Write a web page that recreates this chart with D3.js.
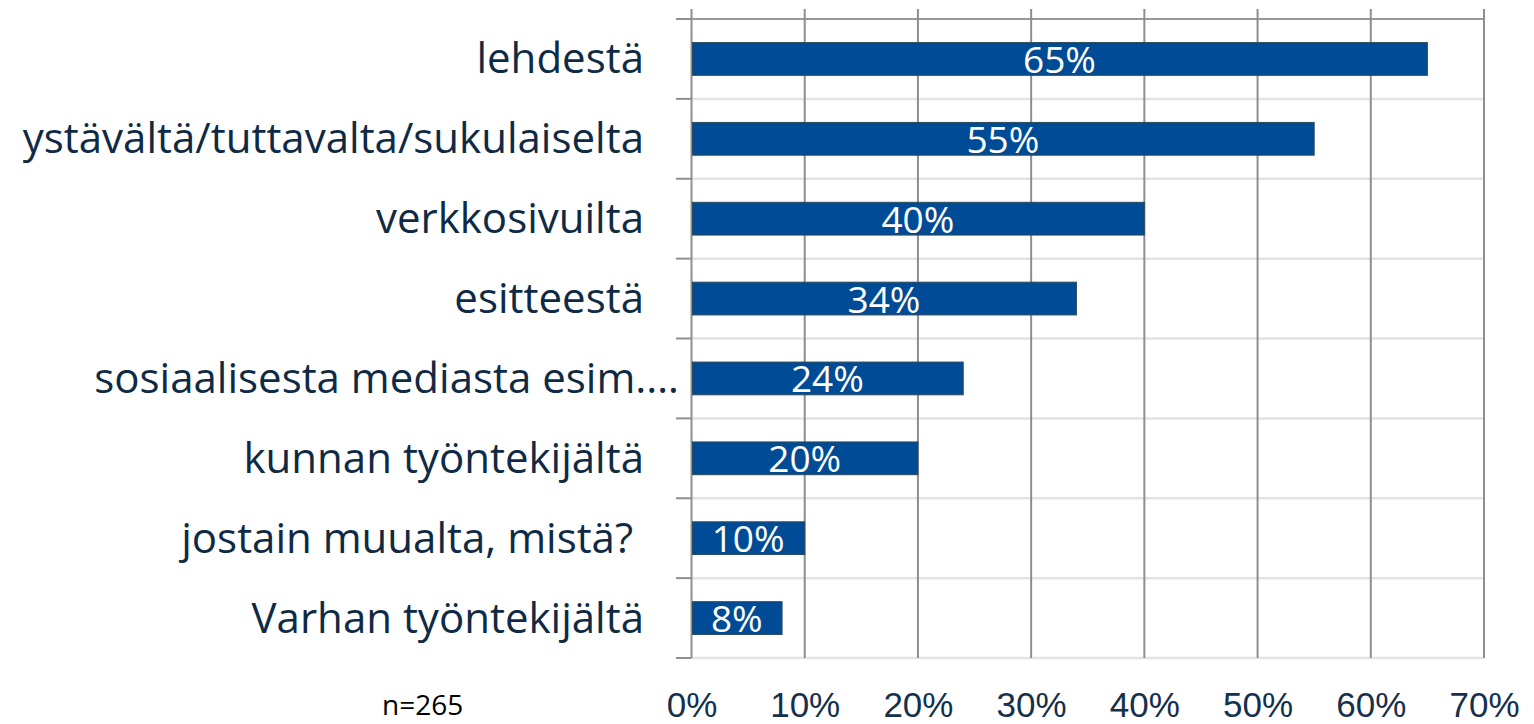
<!DOCTYPE html>
<html>
<head>
<meta charset="utf-8">
<script src="https://cdn.jsdelivr.net/npm/d3@7"></script>
<style>
  body { margin: 0; background: #fff; }
  svg text { white-space: pre; }
</style>
</head>
<body>
<div id="chart"></div>
<script>
const categories = [
  "lehdestä",
  "ystävältä/tuttavalta/sukulaiselta",
  "verkkosivuilta",
  "esitteestä",
  "sosiaalisesta mediasta esim.…",
  "kunnan työntekijältä",
  "jostain muualta, mistä? ",
  "Varhan työntekijältä"
];
const values = [0.65, 0.55, 0.40, 0.34, 0.24, 0.20, 0.10, 0.08];
const xTicks = [0, 0.1, 0.2, 0.3, 0.4, 0.5, 0.6, 0.7];
const note = "n=265";

const width = 1534, height = 724;
const catFont = "'Open Sans', 'Noto Sans', sans-serif";

var svg = d3.select("#chart")
    .append("svg")
    .attr("width", width)
    .attr("height", height);

var x = d3.scaleLinear()
    .domain([0, 0.7])
    .range([691.5, 1484]);

var y = d3.scaleBand()
    .domain(categories)
    .range([19, 658])
    .paddingInner(0.59)
    .paddingOuter(0.295);

const step = y.step();
const bounds = d3.range(categories.length + 1).map(i => 19 + i * step);

// light horizontal separators
svg.append("g").selectAll("line")
    .data(bounds.slice(1))
    .join("line")
    .attr("x1", x(0)).attr("x2", x(0.7))
    .attr("y1", d => d).attr("y2", d => d)
    .attr("stroke", "#e3e3e3")
    .attr("stroke-width", 2.5);

// top line
svg.append("line")
    .attr("x1", 676).attr("x2", x(0.7))
    .attr("y1", bounds[0]).attr("y2", bounds[0])
    .attr("stroke", "#999")
    .attr("stroke-width", 2);

// vertical gridlines
svg.append("g").selectAll("line")
    .data(xTicks)
    .join("line")
    .attr("x1", d => x(d)).attr("x2", d => x(d))
    .attr("y1", 9).attr("y2", 658)
    .attr("stroke", "#8e8e8e")
    .attr("stroke-width", 2);

// category ticks on y axis
svg.append("g").selectAll("line")
    .data(bounds)
    .join("line")
    .attr("x1", 676).attr("x2", x(0))
    .attr("y1", d => d).attr("y2", d => d)
    .attr("stroke", "#8e8e8e")
    .attr("stroke-width", 2);

// bars
svg.append("g").selectAll("rect")
    .data(values)
    .join("rect")
    .attr("x", x(0) + 1)
    .attr("y", (d, i) => y(categories[i]))
    .attr("width", d => x(d) - x(0) - 1)
    .attr("height", y.bandwidth())
    .attr("fill", "#004b95")
    .attr("stroke", "#2c4a5a")
    .attr("stroke-width", 1);

// bar labels
svg.append("g").selectAll("text")
    .data(values)
    .join("text")
    .attr("x", d => (x(0) + x(d)) / 2)
    .attr("y", (d, i) => y(categories[i]) + y.bandwidth() / 2 + 14)
    .attr("text-anchor", "middle")
    .style("font-family", catFont)
    .style("font-size", "37px")
    .style("fill", "#ffffff")
    .text(d => Math.round(d * 100) + "%");

// category labels (truncated label overhangs like in the source)
svg.append("g").selectAll("text")
    .data(categories)
    .join("text")
    .attr("x", d => d.endsWith("…") ? 679 : 644)
    .attr("y", d => y(d) + y.bandwidth() / 2 + 14.5)
    .attr("text-anchor", "end")
    .style("font-family", catFont)
    .style("font-size", "42px")
    .style("fill", "#0f2a45")
    .text(d => d);

// x axis labels
var xAxis = svg.append("g")
    .attr("transform", "translate(0,682)")
    .call(d3.axisBottom(x).tickValues(xTicks).tickSize(0).tickFormat(d3.format(".0%")));
xAxis.select(".domain").remove();
xAxis.selectAll("text")
    .attr("dy", "1em")
    .attr("y", 0)
    .style("font-family", "'Liberation Sans', Arial, sans-serif")
    .style("font-size", "35px")
    .style("fill", "#15304c");

svg.append("text")
    .attr("x", 382)
    .attr("y", 715)
    .style("font-family", catFont)
    .style("font-size", "28px")
    .style("fill", "#000")
    .text(note);
</script>
</body>
</html>
